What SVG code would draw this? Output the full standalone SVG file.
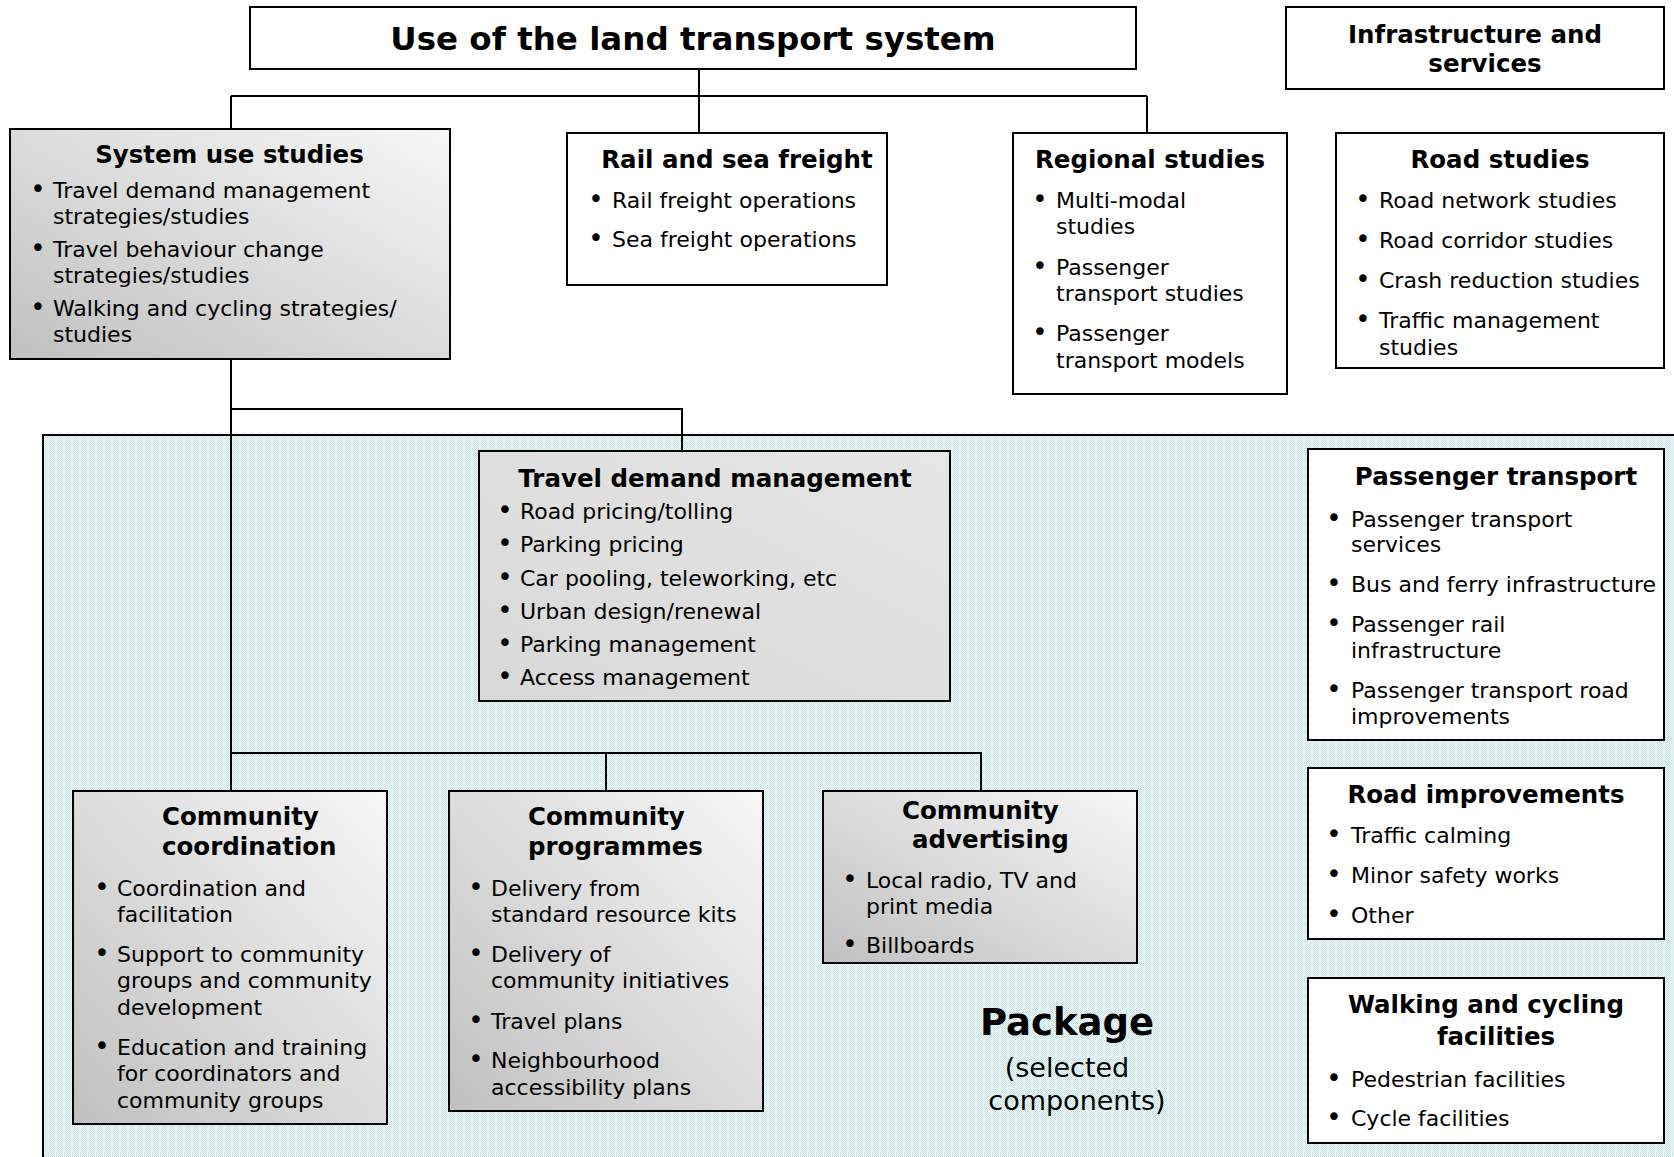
<svg xmlns="http://www.w3.org/2000/svg" width="1674" height="1157" viewBox="0 0 1674 1157">
<style>
text{font-family:"DejaVu Sans","Liberation Sans",Verdana,sans-serif;fill:#000}
.h{font-size:24.5px;font-weight:bold}
.hc{font-size:24.5px;font-weight:bold;text-anchor:middle}
.t{font-size:22px}
.b{font-size:26px;text-anchor:middle}
.box{fill:#fff;stroke:#000;stroke-width:2}
.gbox{fill:url(#gg);stroke:#000;stroke-width:2}
.tbox{fill:url(#gt);stroke:#000;stroke-width:2}
.con{fill:none;stroke:#000;stroke-width:2}
</style>
<defs>
<pattern id="dots" width="2" height="2" patternUnits="userSpaceOnUse">
<rect width="2" height="2" fill="#fff"/>
<rect width="1" height="1" fill="#bfe2e5"/>
<rect x="1" y="1" width="1" height="1" fill="#bfe2e5"/>
</pattern>
<linearGradient id="gg" x1="1" y1="0" x2="0" y2="1">
<stop offset="0" stop-color="#f7f7f7"/>
<stop offset="1" stop-color="#c0c0c0"/>
</linearGradient>
<linearGradient id="gt" x1="1" y1="0" x2="0" y2="1">
<stop offset="0" stop-color="#e6e6e6"/>
<stop offset="1" stop-color="#d8d8d8"/>
</linearGradient>
</defs>

<g id="package">
<rect x="43" y="435" width="1700" height="800" fill="url(#dots)" stroke="#000" stroke-width="2"/>
<text x="1067" y="1035" style="font-size:37px;font-weight:bold;text-anchor:middle">Package</text>
<text x="1067" y="1077" style="font-size:27px;text-anchor:middle">(selected</text>
<text x="1077" y="1110" style="font-size:27px;text-anchor:middle">components)</text>
</g>

<g id="connectors">
<path class="con" d="M699 69V133M231 96H1147M231 96V129M1147 96V133"/>
<path class="con" d="M231 359V791M231 409H682V451"/>
<path class="con" d="M231 753H981V791M606 753V791"/>
</g>

<g id="title">
<rect class="box" x="250" y="7" width="886" height="62"/>
<text x="693" y="50" style="font-size:32.5px;font-weight:bold;text-anchor:middle">Use of the land transport system</text>
</g>

<g id="infrastructure">
<rect class="box" x="1286" y="7" width="378" height="82"/>
<text class="hc" x="1475" y="43">Infrastructure and</text>
<text class="hc" x="1485" y="72">services</text>
</g>

<g id="system-use">
<rect class="gbox" x="10" y="129" width="440" height="230"/>
<text class="hc" x="229.5" y="163">System use studies</text>
<text class="b" x="38" y="198">•</text><text class="t" x="53" y="198">Travel demand management</text>
<text class="t" x="53" y="224">strategies/studies</text>
<text class="b" x="38" y="257">•</text><text class="t" x="53" y="257">Travel behaviour change</text>
<text class="t" x="53" y="283">strategies/studies</text>
<text class="b" x="38" y="316">•</text><text class="t" x="53" y="316">Walking and cycling strategies/</text>
<text class="t" x="53" y="342">studies</text>
</g>

<g id="rail-sea">
<rect class="box" x="567" y="133" width="320" height="152"/>
<text class="hc" x="737" y="168">Rail and sea freight</text>
<text class="b" x="596" y="208">•</text><text class="t" x="612" y="208">Rail freight operations</text>
<text class="b" x="596" y="247">•</text><text class="t" x="612" y="247">Sea freight operations</text>
</g>

<g id="regional">
<rect class="box" x="1013" y="133" width="274" height="261"/>
<text class="hc" x="1150" y="168">Regional studies</text>
<text class="b" x="1040" y="208">•</text><text class="t" x="1056" y="208">Multi-modal</text>
<text class="t" x="1056" y="234">studies</text>
<text class="b" x="1040" y="275">•</text><text class="t" x="1056" y="275">Passenger</text>
<text class="t" x="1056" y="301">transport studies</text>
<text class="b" x="1040" y="341">•</text><text class="t" x="1056" y="341">Passenger</text>
<text class="t" x="1056" y="368">transport models</text>
</g>

<g id="road-studies">
<rect class="box" x="1336" y="133" width="328" height="235"/>
<text class="hc" x="1500" y="168">Road studies</text>
<text class="b" x="1363" y="208">•</text><text class="t" x="1379" y="208">Road network studies</text>
<text class="b" x="1363" y="248">•</text><text class="t" x="1379" y="248">Road corridor studies</text>
<text class="b" x="1363" y="288">•</text><text class="t" x="1379" y="288">Crash reduction studies</text>
<text class="b" x="1363" y="328">•</text><text class="t" x="1379" y="328">Traffic management</text>
<text class="t" x="1379" y="355">studies</text>
</g>

<g id="tdm">
<rect class="tbox" x="479" y="451" width="471" height="250"/>
<text class="hc" x="715" y="487">Travel demand management</text>
<text class="b" x="505" y="519">•</text><text class="t" x="520" y="519">Road pricing/tolling</text>
<text class="b" x="505" y="552">•</text><text class="t" x="520" y="552">Parking pricing</text>
<text class="b" x="505" y="586">•</text><text class="t" x="520" y="586">Car pooling, teleworking, etc</text>
<text class="b" x="505" y="619">•</text><text class="t" x="520" y="619">Urban design/renewal</text>
<text class="b" x="505" y="652">•</text><text class="t" x="520" y="652">Parking management</text>
<text class="b" x="505" y="685">•</text><text class="t" x="520" y="685">Access management</text>
</g>

<g id="community-coordination">
<rect class="gbox" x="73" y="791" width="314" height="333"/>
<text class="h" x="162" y="825">Community</text>
<text class="h" x="162" y="855">coordination</text>
<text class="b" x="102" y="896">•</text><text class="t" x="117" y="896">Coordination and</text>
<text class="t" x="117" y="922">facilitation</text>
<text class="b" x="102" y="962">•</text><text class="t" x="117" y="962">Support to community</text>
<text class="t" x="117" y="988">groups and community</text>
<text class="t" x="117" y="1015">development</text>
<text class="b" x="102" y="1055">•</text><text class="t" x="117" y="1055">Education and training</text>
<text class="t" x="117" y="1081">for coordinators and</text>
<text class="t" x="117" y="1108">community groups</text>
</g>

<g id="community-programmes">
<rect class="gbox" x="449" y="791" width="314" height="320"/>
<text class="h" x="528" y="825">Community</text>
<text class="h" x="528" y="855">programmes</text>
<text class="b" x="476" y="896">•</text><text class="t" x="491" y="896">Delivery from</text>
<text class="t" x="491" y="922">standard resource kits</text>
<text class="b" x="476" y="962">•</text><text class="t" x="491" y="962">Delivery of</text>
<text class="t" x="491" y="988">community initiatives</text>
<text class="b" x="476" y="1029">•</text><text class="t" x="491" y="1029">Travel plans</text>
<text class="b" x="476" y="1068">•</text><text class="t" x="491" y="1068">Neighbourhood</text>
<text class="t" x="491" y="1095">accessibility plans</text>
</g>

<g id="community-advertising">
<rect class="gbox" x="823" y="791" width="314" height="172"/>
<text class="h" x="902" y="819">Community</text>
<text class="h" x="912" y="848">advertising</text>
<text class="b" x="850" y="888">•</text><text class="t" x="866" y="888">Local radio, TV and</text>
<text class="t" x="866" y="914">print media</text>
<text class="b" x="850" y="953">•</text><text class="t" x="866" y="953">Billboards</text>
</g>

<g id="passenger-transport">
<rect class="box" x="1308" y="449" width="356" height="291"/>
<text class="hc" x="1496" y="485">Passenger transport</text>
<text class="b" x="1334" y="527">•</text><text class="t" x="1351" y="527">Passenger transport</text>
<text class="t" x="1351" y="552">services</text>
<text class="b" x="1334" y="592">•</text><text class="t" x="1351" y="592">Bus and ferry infrastructure</text>
<text class="b" x="1334" y="632">•</text><text class="t" x="1351" y="632">Passenger rail</text>
<text class="t" x="1351" y="658">infrastructure</text>
<text class="b" x="1334" y="698">•</text><text class="t" x="1351" y="698">Passenger transport road</text>
<text class="t" x="1351" y="724">improvements</text>
</g>

<g id="road-improvements">
<rect class="box" x="1308" y="768" width="356" height="171"/>
<text class="hc" x="1486" y="803">Road improvements</text>
<text class="b" x="1334" y="843">•</text><text class="t" x="1351" y="843">Traffic calming</text>
<text class="b" x="1334" y="883">•</text><text class="t" x="1351" y="883">Minor safety works</text>
<text class="b" x="1334" y="923">•</text><text class="t" x="1351" y="923">Other</text>
</g>

<g id="walking-cycling">
<rect class="box" x="1308" y="978" width="356" height="165"/>
<text class="hc" x="1486" y="1013">Walking and cycling</text>
<text class="hc" x="1496" y="1045">facilities</text>
<text class="b" x="1334" y="1087">•</text><text class="t" x="1351" y="1087">Pedestrian facilities</text>
<text class="b" x="1334" y="1126">•</text><text class="t" x="1351" y="1126">Cycle facilities</text>
</g>
</svg>
